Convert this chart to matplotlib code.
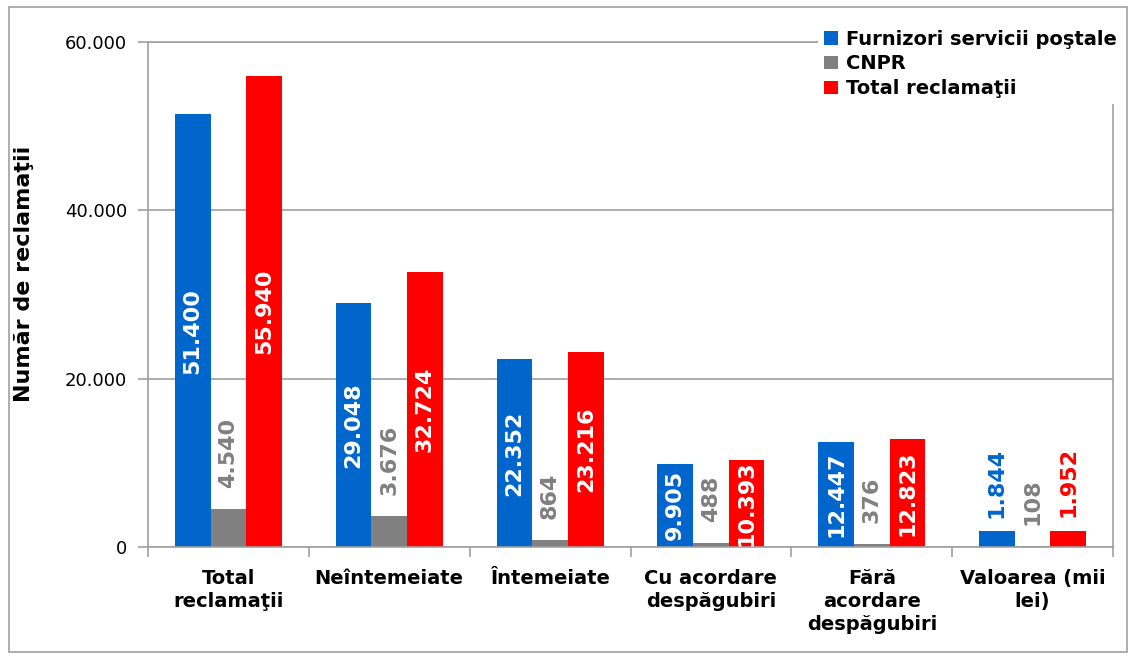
import matplotlib.pyplot as plt
import numpy as np
from matplotlib.patches import Rectangle

categories = ["Total\nreclamaţii", "Neîntemeiate", "Întemeiate",
              "Cu acordare\ndespăgubiri", "Fără\nacordare\ndespăgubiri",
              "Valoarea (mii\nlei)"]
furnizori = [51400, 29048, 22352, 9905, 12447, 1844]
cnpr = [4540, 3676, 864, 488, 376, 108]
total = [55940, 32724, 23216, 10393, 12823, 1952]
series_names = ["Furnizori servicii poştale", "CNPR", "Total reclamaţii"]
colors = ["#0066CC", "#808080", "#FF0000"]

plt.rcParams['font.family'] = ['DejaVu Sans']

fig = plt.figure(figsize=(11.32, 6.59), dpi=100)
ax = fig.add_axes([148 / 1132, 1 - 547 / 659, (1113 - 148) / 1132, (547 - 42) / 659])

x = np.arange(len(categories))
w = 0.222
grid_col = "#a0a0a0"


def thousands(v):
    return f"{v:,.0f}".replace(",", ".")


for i, (vals, name, col) in enumerate(zip([furnizori, cnpr, total], series_names, colors)):
    pos = x + (i - 1) * w
    bars = ax.bar(pos, vals, width=w, color=col, label=name, zorder=2)
    for px, v in zip(pos, vals):
        if i == 1:
            ax.annotate(thousands(v), (px, v), xytext=(0, 15), textcoords="offset points",
                        rotation=90, ha="center", va="bottom", color=col,
                        fontsize=16, fontweight="bold", zorder=4,
                        bbox=dict(boxstyle="square,pad=0.2", fc="white", ec="none"))
        elif v > 5000:
            ax.text(px, v / 2, thousands(v), rotation=90, ha="center", va="center",
                    color="white", fontsize=16, fontweight="bold", zorder=4)
        else:
            ax.annotate(thousands(v), (px, v), xytext=(0, 10), textcoords="offset points",
                        rotation=90, ha="center", va="bottom", color=col,
                        fontsize=16, fontweight="bold", zorder=4)

ax.set_xlim(-0.5, len(categories) - 0.5)
ax.set_ylim(0, 60000)
ax.set_yticks([0, 20000, 40000, 60000])
ax.set_yticklabels([thousands(t) for t in [0, 20000, 40000, 60000]], fontsize=13)
ax.yaxis.grid(True, color=grid_col, linewidth=1.2, zorder=0)
ax.set_axisbelow(True)

ax.set_xticks(x)
ax.set_xticklabels(categories, fontsize=14, fontweight="bold", va="top", linespacing=1.25)
ax.tick_params(axis="x", which="major", length=0, pad=16)
ax.set_xticks(np.arange(-0.5, len(categories)), minor=True)
ax.tick_params(axis="x", which="minor", length=7, color=grid_col, width=1.2)
ax.tick_params(axis="y", length=7, color=grid_col, width=1.2, pad=8)

for s in ["left", "bottom", "right", "top"]:
    ax.spines[s].set_color(grid_col)
    ax.spines[s].set_linewidth(1.2)

ax.set_ylabel("Număr de reclamaţii", fontsize=16, fontweight="bold")
ax.yaxis.set_label_coords(-0.118, 0.54)

leg = ax.legend(loc="upper right", bbox_to_anchor=(1132 / 1132, 1 - 14 / 659),
                bbox_transform=fig.transFigure, frameon=True, fancybox=False,
                edgecolor="none", facecolor="white", framealpha=1,
                prop=dict(size=14, weight="bold"), handlelength=0.7, handleheight=0.7,
                handletextpad=0.4, labelspacing=0.3, borderpad=0.3)
leg.set_zorder(5)

fig.patches.append(Rectangle((9 / 1132, 1 - 652 / 659), (1127 - 9) / 1132, (652 - 7) / 659,
                             transform=fig.transFigure, fill=False, edgecolor="#a0a0a0",
                             linewidth=1.2))

fig.savefig("out.png", dpi=100)
